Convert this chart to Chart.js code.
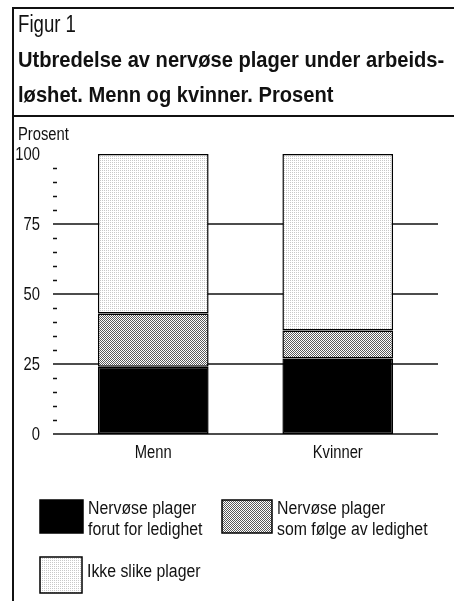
<!DOCTYPE html>
<html>
<head>
<meta charset="utf-8">
<script src="https://cdn.jsdelivr.net/npm/chart.js@4"></script>
<style>
  body { margin: 0; background: #fff; width: 454px; height: 601px; overflow: hidden; position: relative; font-family: "Liberation Sans", Arial, sans-serif; color: #111; }
  .frame-left { position: absolute; left: 12px; top: 7px; width: 2px; height: 594px; background: #111; }
  .frame-top { position: absolute; left: 12px; top: 7px; width: 442px; height: 2px; background: #111; }
  .frame-mid { position: absolute; left: 12px; top: 115px; width: 442px; height: 2px; background: #111; }
  .txt { position: absolute; white-space: nowrap; line-height: 1; transform-origin: 0 0; }
  .fig { left: 18px; top: 12.5px; font-size: 23px; transform: scaleX(0.81); }
  .title { left: 18px; font-size: 22px; font-weight: bold; transform: scaleX(0.915); }
  #chart { position: absolute; left: 0; top: 0; }
</style>
</head>
<body>
<canvas id="chart" width="454" height="601"></canvas>
<div class="frame-left"></div>
<div class="frame-top"></div>
<div class="frame-mid"></div>
<div class="txt fig">Figur 1</div>
<div class="txt title" style="top:48.5px">Utbredelse av nervøse plager under arbeids-</div>
<div class="txt title" style="top:83.5px">løshet. Menn og kvinner. Prosent</div>
<script>
// Kategorier og verdier (prosent) lest av figuren
const categories = ["Menn", "Kvinner"];
const forutLedighet = [24, 27];
const folgeLedighet = [19, 10];
const ikkePlager = [57, 63];
const seriesNames = ["Nervøse plager\nforut for ledighet", "Nervøse plager\nsom følge av ledighet", "Ikke slike plager"];
const yTitle = "Prosent";
const majorTicks = [0, 25, 50, 75];

const FONT = "'Liberation Sans', Arial, sans-serif";

// Smal skrift: vanlig Liberation Sans klemt sammen horisontalt
function narrowText(ctx, text, x, y, size, squeeze, align, baseline) {
  ctx.save();
  ctx.font = size + "px " + FONT;
  ctx.textAlign = align;
  ctx.textBaseline = baseline;
  ctx.translate(x, y);
  ctx.scale(squeeze, 1);
  ctx.fillText(text, 0, 0);
  ctx.restore();
}

// Rasterfyll som ligner trykkets prikkmønster
function dotPattern(dot, every) {
  const c = document.createElement("canvas");
  c.width = 4; c.height = 4;
  const g = c.getContext("2d");
  g.fillStyle = "#fff";
  g.fillRect(0, 0, 4, 4);
  g.fillStyle = dot;
  for (let y = 0; y < 4; y++) {
    for (let x = 0; x < 4; x++) {
      if ((x + y) % 2 === 0 && (every === 1 || (x % 2 === 0 && y % 2 === 0))) g.fillRect(x, y, 1, 1);
    }
  }
  return g.createPattern(c, "repeat");
}
const fills = ["#000", dotPattern("#5a5a5a", 1), dotPattern("#c8c8c8", 2)];

// Hjelpelinjer og små streker bak søylene
const gridLines = {
  id: "gridLines",
  beforeDatasetsDraw(chart) {
    const ctx = chart.ctx, y = chart.scales.y, area = chart.chartArea;
    ctx.save();
    ctx.strokeStyle = "#111";
    ctx.lineWidth = 1.5;
    for (let v = 5; v < 100; v += 5) {
      if (v % 25 === 0) continue;
      const py = Math.round(y.getPixelForValue(v)) + 0.5;
      ctx.beginPath(); ctx.moveTo(area.left - 8, py); ctx.lineTo(area.left - 4, py); ctx.stroke();
    }
    majorTicks.forEach(v => {
      const py = y.getPixelForValue(v);
      ctx.beginPath(); ctx.moveTo(area.left - 8, py); ctx.lineTo(area.right + 8, py); ctx.stroke();
    });
    ctx.restore();
  }
};

// Aksetekster fra skalaenes egne ticks, med smal skrift
const axisText = {
  id: "axisText",
  afterDraw(chart) {
    const ctx = chart.ctx, x = chart.scales.x, y = chart.scales.y, area = chart.chartArea;
    ctx.fillStyle = "#111";
    y.ticks.forEach((t, i) => narrowText(ctx, String(t.value), area.left - 21, y.getPixelForTick(i) + 1, 18, 0.82, "right", "middle"));
    x.ticks.forEach((t, i) => narrowText(ctx, x.getLabelForValue(t.value), x.getPixelForTick(i), area.bottom + 24, 18, 0.82, "center", "alphabetic"));
    narrowText(ctx, yTitle, 18, 140, 18, 0.82, "left", "alphabetic");
  }
};

// Tegnforklaring under diagrammet
const boxes = [
  { x: 40, y: 500, w: 43, h: 33, ty: 514 },
  { x: 222, y: 500, w: 50, h: 33, ty: 514 },
  { x: 40, y: 557, w: 42, h: 36, ty: 577 }
];
const legendBox = {
  id: "legendBox",
  afterDraw(chart) {
    const ctx = chart.ctx;
    chart.data.datasets.forEach((ds, i) => {
      const b = boxes[i];
      ctx.save();
      ctx.fillStyle = ds.backgroundColor;
      ctx.fillRect(b.x, b.y, b.w, b.h);
      ctx.strokeStyle = "#000";
      ctx.lineWidth = 1.5;
      ctx.strokeRect(b.x, b.y, b.w, b.h);
      ctx.restore();
      ctx.fillStyle = "#111";
      ds.label.split("\n").forEach((line, k) => narrowText(ctx, line, b.x + b.w + 5, b.ty + k * 21, 18, 0.88, "left", "alphabetic"));
    });
  }
};

new Chart(document.getElementById("chart"), {
  type: "bar",
  data: {
    labels: categories,
    datasets: [forutLedighet, folgeLedighet, ikkePlager].map((data, i) => ({
      label: seriesNames[i],
      data,
      backgroundColor: fills[i],
      borderColor: "#000",
      borderWidth: 1.5,
      borderSkipped: false,
      barPercentage: 0.6,
      categoryPercentage: 1
    }))
  },
  options: {
    responsive: false,
    animation: false,
    layout: { padding: { top: 154, right: 24, left: 0, bottom: 0 } },
    plugins: { legend: { display: false }, tooltip: { enabled: false } },
    scales: {
      x: {
        stacked: true,
        afterFit: s => { s.height = 601 - 434; },
        grid: { display: false, drawTicks: false },
        border: { display: false },
        ticks: { display: false }
      },
      y: {
        stacked: true,
        min: 0,
        max: 100,
        afterFit: s => { s.width = 61; },
        grid: { display: false, drawTicks: false },
        border: { display: false },
        ticks: { display: false, stepSize: 25 }
      }
    }
  },
  plugins: [gridLines, axisText, legendBox]
});
</script>
</body>
</html>
